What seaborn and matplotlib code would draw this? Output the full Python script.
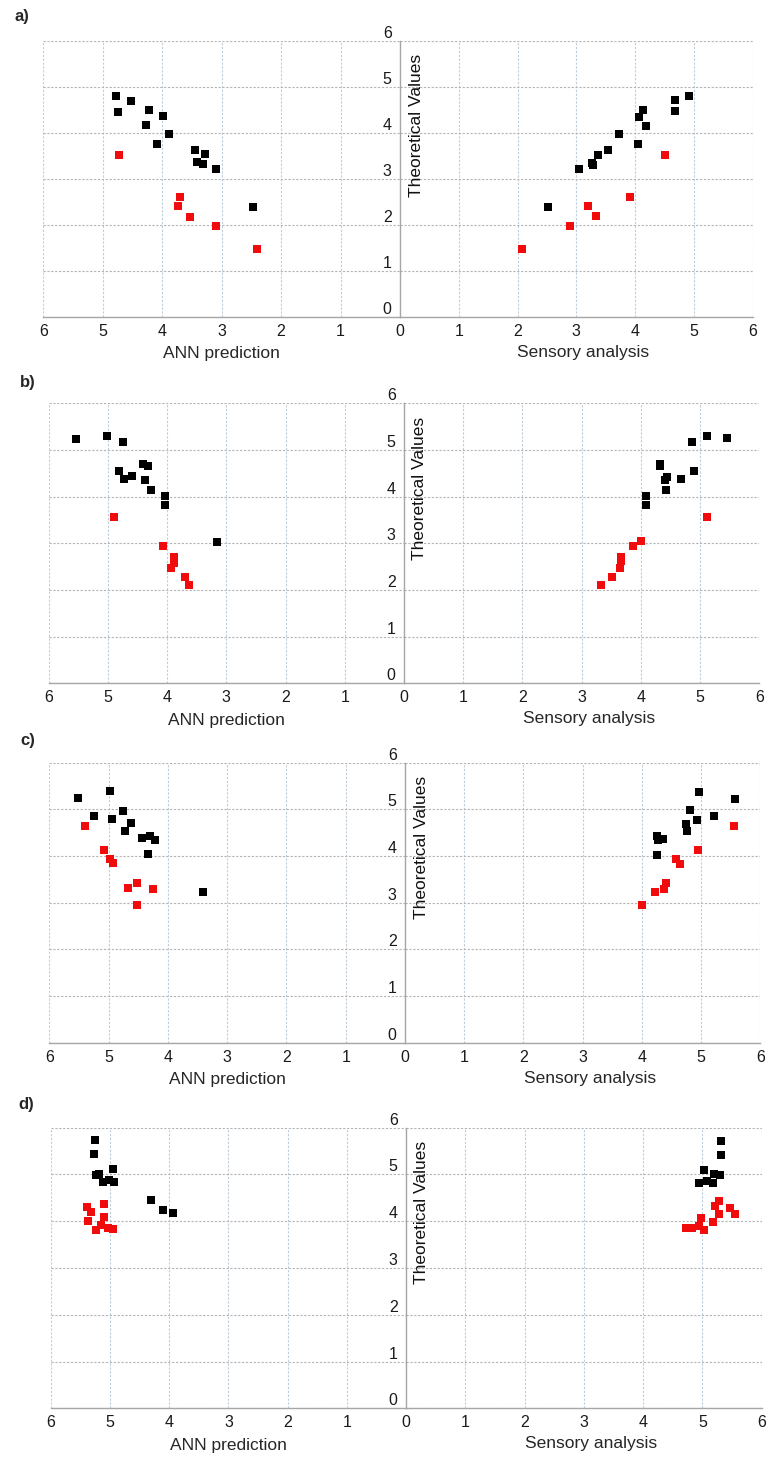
import matplotlib
matplotlib.use("Agg")
import matplotlib.pyplot as plt
import matplotlib.transforms as mtransforms
import seaborn as sns

# ---- data ----
# panel a
a_ann_black_x = [4.77, 4.75, 4.52, 4.23, 4.28, 3.98, 3.88, 4.08, 3.45, 3.28, 3.41, 3.31, 3.09, 2.48]
a_ann_black_y = [4.79, 4.46, 4.69, 4.49, 4.17, 4.36, 3.98, 3.77, 3.62, 3.54, 3.36, 3.32, 3.22, 2.39]
a_ann_red_x = [4.72, 3.70, 3.74, 3.54, 3.09, 2.41]
a_ann_red_y = [3.53, 2.60, 2.41, 2.18, 1.97, 1.48]
a_sens_black_x = [4.92, 4.68, 4.67, 4.14, 4.06, 4.19, 3.73, 4.05, 3.54, 3.37, 3.27, 3.28, 3.04, 2.52]
a_sens_black_y = [4.80, 4.72, 4.47, 4.49, 4.35, 4.16, 3.98, 3.77, 3.62, 3.53, 3.35, 3.30, 3.22, 2.40]
a_sens_red_x = [4.50, 3.92, 3.19, 3.34, 2.89, 2.07]
a_sens_red_y = [3.51, 2.61, 2.42, 2.20, 1.99, 1.48]

# panel b
b_ann_black_x = [5.54, 5.01, 4.75, 4.82, 4.73, 4.60, 4.41, 4.32, 4.38, 4.28, 4.03, 4.03, 3.15]
b_ann_black_y = [5.24, 5.29, 5.16, 4.54, 4.38, 4.44, 4.69, 4.66, 4.36, 4.15, 4.02, 3.81, 3.03]
b_ann_red_x = [4.90, 4.07, 3.88, 3.88, 3.93, 3.70, 3.63]
b_ann_red_y = [3.56, 2.94, 2.71, 2.57, 2.46, 2.27, 2.11]
b_sens_black_x = [5.12, 5.46, 4.86, 4.89, 4.32, 4.32, 4.44, 4.41, 4.67, 4.42, 4.08, 4.08]
b_sens_black_y = [5.29, 5.25, 5.16, 4.54, 4.69, 4.66, 4.43, 4.36, 4.38, 4.15, 4.02, 3.81]
b_sens_red_x = [5.12, 4.01, 3.87, 3.67, 3.67, 3.64, 3.52, 3.32]
b_sens_red_y = [3.56, 3.04, 2.94, 2.71, 2.61, 2.46, 2.27, 2.11]

# panel c
c_ann_black_x = [5.51, 4.97, 5.24, 4.75, 4.94, 4.63, 4.72, 4.44, 4.30, 4.21, 4.33, 3.41]
c_ann_black_y = [5.24, 5.39, 4.86, 4.97, 4.79, 4.70, 4.54, 4.38, 4.42, 4.34, 4.04, 3.22]
c_ann_red_x = [5.39, 5.07, 4.98, 4.92, 4.52, 4.68, 4.25, 4.52]
c_ann_red_y = [4.64, 4.13, 3.94, 3.85, 3.43, 3.32, 3.29, 2.95]
c_sens_black_x = [4.97, 5.57, 4.82, 5.21, 4.93, 4.75, 4.77, 4.26, 4.28, 4.36, 4.25]
c_sens_black_y = [5.38, 5.23, 4.98, 4.86, 4.78, 4.69, 4.53, 4.42, 4.34, 4.36, 4.03]
c_sens_red_x = [5.56, 4.94, 4.57, 4.64, 4.40, 4.38, 4.23, 4.01]
c_sens_red_y = [4.64, 4.12, 3.94, 3.84, 3.43, 3.30, 3.22, 2.95]

# panel d
d_ann_black_x = [5.26, 5.27, 5.24, 5.19, 4.95, 5.12, 5.02, 4.94, 4.31, 4.10, 3.94]
d_ann_black_y = [5.74, 5.44, 4.99, 5.01, 5.11, 4.83, 4.88, 4.84, 4.46, 4.25, 4.17]
d_ann_red_x = [5.39, 5.32, 5.38, 5.11, 5.11, 5.24, 5.15, 5.03, 4.95]
d_ann_red_y = [4.31, 4.19, 4.00, 4.36, 4.08, 3.82, 3.91, 3.86, 3.84]
d_sens_black_x = [5.31, 5.31, 5.02, 5.19, 5.29, 4.95, 5.07, 5.18]
d_sens_black_y = [5.72, 5.42, 5.09, 5.00, 4.98, 4.82, 4.85, 4.81]
d_sens_red_x = [5.28, 5.22, 5.47, 5.55, 5.28, 4.97, 5.18, 4.73, 4.82, 4.95, 5.03]
d_sens_red_y = [4.43, 4.33, 4.28, 4.16, 4.16, 4.06, 3.99, 3.85, 3.85, 3.90, 3.81]

ticks = [0, 1, 2, 3, 4, 5, 6]
tick_labels = ["0", "1", "2", "3", "4", "5", "6"]
panel_names = ["a)", "b)", "c)", "d)"]

sns.set_style("white")
plt.rcParams["font.family"] = ["Liberation Sans", "DejaVu Sans"]

W, H = 782, 1474
fig = plt.figure(figsize=(W / 100, H / 100), dpi=100)

# pixel boxes: left, centre, right, top, bottom
boxes = [
    (43.3, 400.0, 752.7, 40.7, 317.3),
    (48.7, 404.0, 759.3, 403.3, 683.3),
    (49.3, 405.0, 760.3, 762.7, 1042.7),
    (51.0, 406.0, 761.7, 1127.7, 1408.3),
]
label_pos = [(22, 16), (28, 383), (28, 741), (26, 1105)]

panels = [
    (a_ann_black_x, a_ann_black_y, a_ann_red_x, a_ann_red_y,
     a_sens_black_x, a_sens_black_y, a_sens_red_x, a_sens_red_y),
    (b_ann_black_x, b_ann_black_y, b_ann_red_x, b_ann_red_y,
     b_sens_black_x, b_sens_black_y, b_sens_red_x, b_sens_red_y),
    (c_ann_black_x, c_ann_black_y, c_ann_red_x, c_ann_red_y,
     c_sens_black_x, c_sens_black_y, c_sens_red_x, c_sens_red_y),
    (d_ann_black_x, d_ann_black_y, d_ann_red_x, d_ann_red_y,
     d_sens_black_x, d_sens_black_y, d_sens_red_x, d_sens_red_y),
]

BLACK = "#000000"
RED = "#f00c0c"
XGRID = "#bfcdd8"
YGRID = "#b4b4b4"
AXIS = "#a6a6a6"
MS = 36


def style_axes(ax, xlim):
    ax.set_xlim(*xlim)
    ax.set_ylim(0, 6)
    ax.set_xticks(ticks)
    ax.set_xticklabels(tick_labels)
    ax.set_yticks(ticks)
    ax.grid(True, axis="x", color=XGRID, linestyle=(0, (2, 1.5)), linewidth=0.8)
    ax.grid(True, axis="y", color=YGRID, linestyle=(0, (2, 1.5)), linewidth=0.8)
    ax.set_axisbelow(True)
    for s in ["top", "right", "left"]:
        ax.spines[s].set_visible(False)
    ax.spines["bottom"].set_color(AXIS)
    ax.spines["bottom"].set_linewidth(1.0)
    ax.tick_params(axis="x", length=0, pad=5, labelsize=11.5, colors="#1a1a1a")
    ax.set_ylabel("")
    ax.set_xlabel("")


for i, (box, data) in enumerate(zip(boxes, panels)):
    L, C, R, T, B = box
    (ab_x, ab_y, ar_x, ar_y, sb_x, sb_y, sr_x, sr_y) = data

    ax_l = fig.add_axes([L / W, 1 - B / H, (C - L) / W, (B - T) / H])
    ax_r = fig.add_axes([C / W, 1 - B / H, (R - C) / W, (B - T) / H])

    sns.scatterplot(x=ab_x, y=ab_y, ax=ax_l, color=BLACK, marker="s", s=MS, linewidth=0, zorder=3)
    sns.scatterplot(x=ar_x, y=ar_y, ax=ax_l, color=RED, marker="s", s=MS, linewidth=0, zorder=3)
    sns.scatterplot(x=sb_x, y=sb_y, ax=ax_r, color=BLACK, marker="s", s=MS, linewidth=0, zorder=3)
    sns.scatterplot(x=sr_x, y=sr_y, ax=ax_r, color=RED, marker="s", s=MS, linewidth=0, zorder=3)

    style_axes(ax_l, (6, 0))
    style_axes(ax_r, (0, 6))

    ax_l.tick_params(axis="y", left=False, labelleft=False, length=0)
    ax_r.spines["left"].set_visible(True)
    ax_r.spines["left"].set_color(AXIS)
    ax_r.spines["left"].set_linewidth(1.0)
    ax_r.set_yticklabels(tick_labels)
    ax_r.tick_params(axis="y", length=0, pad=6, labelsize=11.5, colors="#1a1a1a")
    # y labels sit a bit above their grid lines
    shift = mtransforms.ScaledTranslation(0, 9 / 100, fig.dpi_scale_trans)
    for lab in ax_r.get_yticklabels():
        lab.set_transform(lab.get_transform() + shift)
    # the centre "0" comes from the left half only
    ax_r.set_xticks([1, 2, 3, 4, 5, 6])
    ax_r.set_xticklabels(tick_labels[1:])
    ax_r.grid(True, axis="x", color=XGRID, linestyle=(0, (2, 1.5)), linewidth=0.8)

    ax_l.set_xlabel("ANN prediction", fontsize=12.5)
    ax_l.xaxis.set_label_coords(0.5, -0.105)
    ax_r.set_xlabel("Sensory analysis", fontsize=12.5)
    ax_r.xaxis.set_label_coords(0.52, -0.1)

    fig.text((C + 16) / W, 1 - (T + 85) / H, "Theoretical Values", rotation=90,
             ha="center", va="center", fontsize=12.5, color="#111111")
    lx, ly = label_pos[i]
    fig.text(lx / W, 1 - ly / H, panel_names[i], ha="center", va="center",
             fontsize=12, fontweight="bold")

fig.savefig("out.png", dpi=100)
